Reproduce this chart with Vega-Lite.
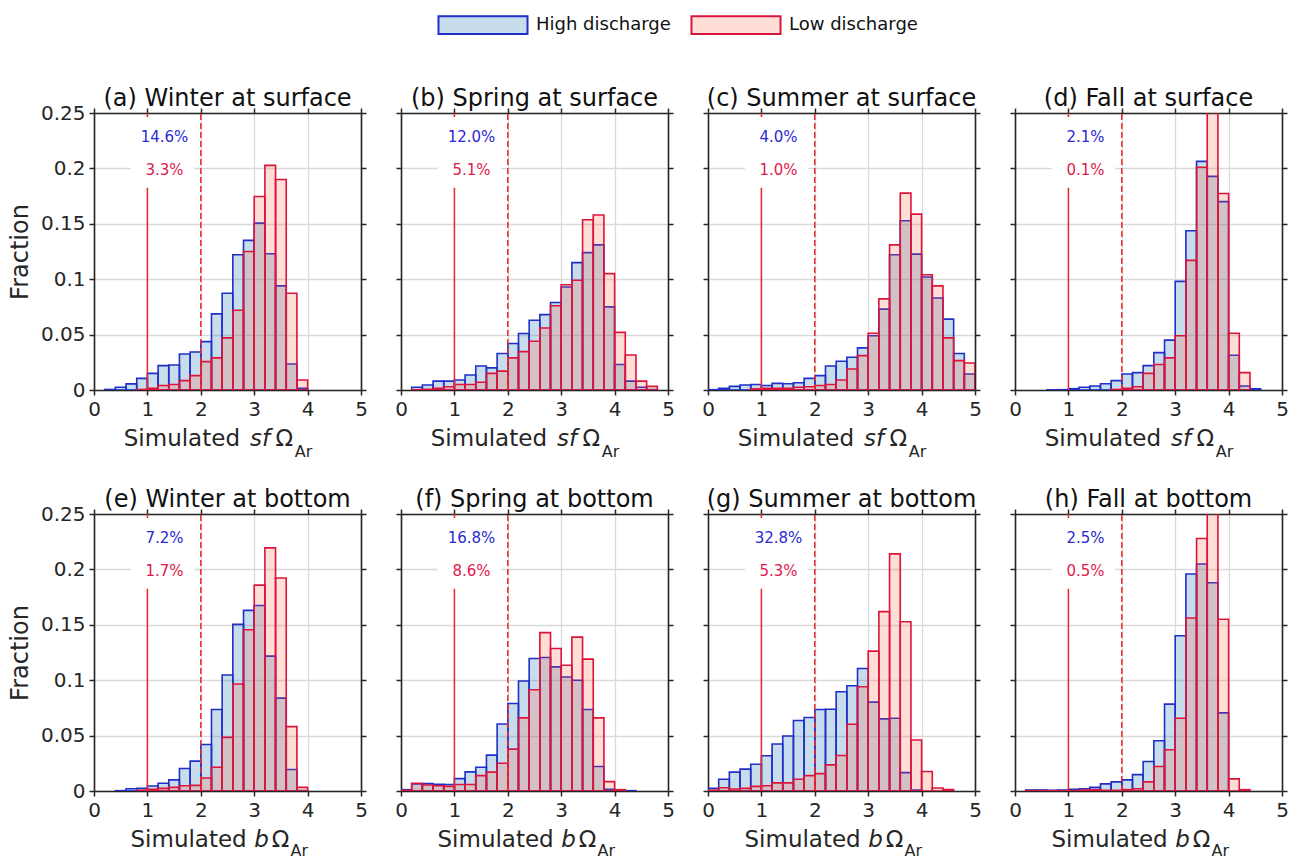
{
"$schema": "https://vega.github.io/schema/vega-lite/v6.json",
"padding": {"left": 8, "top": 15, "right": 5, "bottom": 5},
"columns": 4,
"spacing": {"row": 124, "column": 40},
"bounds": "flush",
"datasets": {
"bars": [
{"p":"a","s":"H","b0":0.2,"b1":0.4,"v":0.0005},{"p":"a","s":"H","b0":0.4,"b1":0.6,"v":0.0025},{"p":"a","s":"H","b0":0.6,"b1":0.8,"v":0.0055},{"p":"a","s":"H","b0":0.8,"b1":1,"v":0.0105},{"p":"a","s":"H","b0":1,"b1":1.2,"v":0.015},{"p":"a","s":"H","b0":1.2,"b1":1.4,"v":0.022},{"p":"a","s":"H","b0":1.4,"b1":1.6,"v":0.0226},{"p":"a","s":"H","b0":1.6,"b1":1.8,"v":0.0325},{"p":"a","s":"H","b0":1.8,"b1":2,"v":0.0343},{"p":"a","s":"H","b0":2,"b1":2.2,"v":0.0437},{"p":"a","s":"H","b0":2.2,"b1":2.4,"v":0.0687},{"p":"a","s":"H","b0":2.4,"b1":2.6,"v":0.0873},{"p":"a","s":"H","b0":2.6,"b1":2.8,"v":0.122},{"p":"a","s":"H","b0":2.8,"b1":3,"v":0.135},{"p":"a","s":"H","b0":3,"b1":3.2,"v":0.1506},{"p":"a","s":"H","b0":3.2,"b1":3.4,"v":0.123},{"p":"a","s":"H","b0":3.4,"b1":3.6,"v":0.094},{"p":"a","s":"H","b0":3.6,"b1":3.8,"v":0.0235},{"p":"a","s":"H","b0":3.8,"b1":4,"v":0.0015},
{"p":"a","s":"L","b0":0.8,"b1":1,"v":0.0005},{"p":"a","s":"L","b0":1,"b1":1.2,"v":0.0015},{"p":"a","s":"L","b0":1.2,"b1":1.4,"v":0.004},{"p":"a","s":"L","b0":1.4,"b1":1.6,"v":0.005},{"p":"a","s":"L","b0":1.6,"b1":1.8,"v":0.0085},{"p":"a","s":"L","b0":1.8,"b1":2,"v":0.013},{"p":"a","s":"L","b0":2,"b1":2.2,"v":0.0256},{"p":"a","s":"L","b0":2.2,"b1":2.4,"v":0.029},{"p":"a","s":"L","b0":2.4,"b1":2.6,"v":0.047},{"p":"a","s":"L","b0":2.6,"b1":2.8,"v":0.072},{"p":"a","s":"L","b0":2.8,"b1":3,"v":0.125},{"p":"a","s":"L","b0":3,"b1":3.2,"v":0.1747},{"p":"a","s":"L","b0":3.2,"b1":3.4,"v":0.2027},{"p":"a","s":"L","b0":3.4,"b1":3.6,"v":0.19},{"p":"a","s":"L","b0":3.6,"b1":3.8,"v":0.0873},{"p":"a","s":"L","b0":3.8,"b1":4,"v":0.009},
{"p":"b","s":"H","b0":0.2,"b1":0.4,"v":0.0025},{"p":"b","s":"H","b0":0.4,"b1":0.6,"v":0.0045},{"p":"b","s":"H","b0":0.6,"b1":0.8,"v":0.008},{"p":"b","s":"H","b0":0.8,"b1":1,"v":0.008},{"p":"b","s":"H","b0":1,"b1":1.2,"v":0.009},{"p":"b","s":"H","b0":1.2,"b1":1.4,"v":0.0135},{"p":"b","s":"H","b0":1.4,"b1":1.6,"v":0.0217},{"p":"b","s":"H","b0":1.6,"b1":1.8,"v":0.02},{"p":"b","s":"H","b0":1.8,"b1":2,"v":0.033},{"p":"b","s":"H","b0":2,"b1":2.2,"v":0.042},{"p":"b","s":"H","b0":2.2,"b1":2.4,"v":0.051},{"p":"b","s":"H","b0":2.4,"b1":2.6,"v":0.063},{"p":"b","s":"H","b0":2.6,"b1":2.8,"v":0.068},{"p":"b","s":"H","b0":2.8,"b1":3,"v":0.079},{"p":"b","s":"H","b0":3,"b1":3.2,"v":0.093},{"p":"b","s":"H","b0":3.2,"b1":3.4,"v":0.115},{"p":"b","s":"H","b0":3.4,"b1":3.6,"v":0.124},{"p":"b","s":"H","b0":3.6,"b1":3.8,"v":0.131},{"p":"b","s":"H","b0":3.8,"b1":4,"v":0.075},{"p":"b","s":"H","b0":4,"b1":4.2,"v":0.023},{"p":"b","s":"H","b0":4.2,"b1":4.4,"v":0.008},{"p":"b","s":"H","b0":4.4,"b1":4.6,"v":0.0025},{"p":"b","s":"H","b0":4.6,"b1":4.8,"v":0.0005},
{"p":"b","s":"L","b0":0.2,"b1":0.4,"v":0.0003},{"p":"b","s":"L","b0":0.4,"b1":0.6,"v":0.0006},{"p":"b","s":"L","b0":0.6,"b1":0.8,"v":0.0015},{"p":"b","s":"L","b0":0.8,"b1":1,"v":0.003},{"p":"b","s":"L","b0":1,"b1":1.2,"v":0.005},{"p":"b","s":"L","b0":1.2,"b1":1.4,"v":0.005},{"p":"b","s":"L","b0":1.4,"b1":1.6,"v":0.007},{"p":"b","s":"L","b0":1.6,"b1":1.8,"v":0.015},{"p":"b","s":"L","b0":1.8,"b1":2,"v":0.017},{"p":"b","s":"L","b0":2,"b1":2.2,"v":0.029},{"p":"b","s":"L","b0":2.2,"b1":2.4,"v":0.0346},{"p":"b","s":"L","b0":2.4,"b1":2.6,"v":0.044},{"p":"b","s":"L","b0":2.6,"b1":2.8,"v":0.056},{"p":"b","s":"L","b0":2.8,"b1":3,"v":0.076},{"p":"b","s":"L","b0":3,"b1":3.2,"v":0.095},{"p":"b","s":"L","b0":3.2,"b1":3.4,"v":0.099},{"p":"b","s":"L","b0":3.4,"b1":3.6,"v":0.1536},{"p":"b","s":"L","b0":3.6,"b1":3.8,"v":0.158},{"p":"b","s":"L","b0":3.8,"b1":4,"v":0.105},{"p":"b","s":"L","b0":4,"b1":4.2,"v":0.052},{"p":"b","s":"L","b0":4.2,"b1":4.4,"v":0.0316},{"p":"b","s":"L","b0":4.4,"b1":4.6,"v":0.008},{"p":"b","s":"L","b0":4.6,"b1":4.8,"v":0.0033},
{"p":"c","s":"H","b0":0,"b1":0.2,"v":0.0003},{"p":"c","s":"H","b0":0.2,"b1":0.4,"v":0.0015},{"p":"c","s":"H","b0":0.4,"b1":0.6,"v":0.0033},{"p":"c","s":"H","b0":0.6,"b1":0.8,"v":0.0045},{"p":"c","s":"H","b0":0.8,"b1":1,"v":0.005},{"p":"c","s":"H","b0":1,"b1":1.2,"v":0.004},{"p":"c","s":"H","b0":1.2,"b1":1.4,"v":0.006},{"p":"c","s":"H","b0":1.4,"b1":1.6,"v":0.0057},{"p":"c","s":"H","b0":1.6,"b1":1.8,"v":0.0066},{"p":"c","s":"H","b0":1.8,"b1":2,"v":0.0105},{"p":"c","s":"H","b0":2,"b1":2.2,"v":0.013},{"p":"c","s":"H","b0":2.2,"b1":2.4,"v":0.0217},{"p":"c","s":"H","b0":2.4,"b1":2.6,"v":0.026},{"p":"c","s":"H","b0":2.6,"b1":2.8,"v":0.0295},{"p":"c","s":"H","b0":2.8,"b1":3,"v":0.038},{"p":"c","s":"H","b0":3,"b1":3.2,"v":0.049},{"p":"c","s":"H","b0":3.2,"b1":3.4,"v":0.073},{"p":"c","s":"H","b0":3.4,"b1":3.6,"v":0.122},{"p":"c","s":"H","b0":3.6,"b1":3.8,"v":0.1527},{"p":"c","s":"H","b0":3.8,"b1":4,"v":0.1226},{"p":"c","s":"H","b0":4,"b1":4.2,"v":0.102},{"p":"c","s":"H","b0":4.2,"b1":4.4,"v":0.083},{"p":"c","s":"H","b0":4.4,"b1":4.6,"v":0.064},{"p":"c","s":"H","b0":4.6,"b1":4.8,"v":0.033},{"p":"c","s":"H","b0":4.8,"b1":5,"v":0.0145},
{"p":"c","s":"L","b0":0.8,"b1":1,"v":0.001},{"p":"c","s":"L","b0":1,"b1":1.2,"v":0.0015},{"p":"c","s":"L","b0":1.2,"b1":1.4,"v":0.0015},{"p":"c","s":"L","b0":1.4,"b1":1.6,"v":0.0015},{"p":"c","s":"L","b0":1.6,"b1":1.8,"v":0.0025},{"p":"c","s":"L","b0":1.8,"b1":2,"v":0.003},{"p":"c","s":"L","b0":2,"b1":2.2,"v":0.004},{"p":"c","s":"L","b0":2.2,"b1":2.4,"v":0.005},{"p":"c","s":"L","b0":2.4,"b1":2.6,"v":0.009},{"p":"c","s":"L","b0":2.6,"b1":2.8,"v":0.019},{"p":"c","s":"L","b0":2.8,"b1":3,"v":0.031},{"p":"c","s":"L","b0":3,"b1":3.2,"v":0.0512},{"p":"c","s":"L","b0":3.2,"b1":3.4,"v":0.0822},{"p":"c","s":"L","b0":3.4,"b1":3.6,"v":0.131},{"p":"c","s":"L","b0":3.6,"b1":3.8,"v":0.1777},{"p":"c","s":"L","b0":3.8,"b1":4,"v":0.1587},{"p":"c","s":"L","b0":4,"b1":4.2,"v":0.104},{"p":"c","s":"L","b0":4.2,"b1":4.4,"v":0.094},{"p":"c","s":"L","b0":4.4,"b1":4.6,"v":0.047},{"p":"c","s":"L","b0":4.6,"b1":4.8,"v":0.0265},{"p":"c","s":"L","b0":4.8,"b1":5,"v":0.0244},
{"p":"d","s":"H","b0":0.6,"b1":0.8,"v":0.0002},{"p":"d","s":"H","b0":0.8,"b1":1,"v":0.0003},{"p":"d","s":"H","b0":1,"b1":1.2,"v":0.0012},{"p":"d","s":"H","b0":1.2,"b1":1.4,"v":0.0025},{"p":"d","s":"H","b0":1.4,"b1":1.6,"v":0.0036},{"p":"d","s":"H","b0":1.6,"b1":1.8,"v":0.0057},{"p":"d","s":"H","b0":1.8,"b1":2,"v":0.0085},{"p":"d","s":"H","b0":2,"b1":2.2,"v":0.0145},{"p":"d","s":"H","b0":2.2,"b1":2.4,"v":0.0157},{"p":"d","s":"H","b0":2.4,"b1":2.6,"v":0.022},{"p":"d","s":"H","b0":2.6,"b1":2.8,"v":0.0337},{"p":"d","s":"H","b0":2.8,"b1":3,"v":0.045},{"p":"d","s":"H","b0":3,"b1":3.2,"v":0.098},{"p":"d","s":"H","b0":3.2,"b1":3.4,"v":0.1437},{"p":"d","s":"H","b0":3.4,"b1":3.6,"v":0.2063},{"p":"d","s":"H","b0":3.6,"b1":3.8,"v":0.1928},{"p":"d","s":"H","b0":3.8,"b1":4,"v":0.17},{"p":"d","s":"H","b0":4,"b1":4.2,"v":0.0313},{"p":"d","s":"H","b0":4.2,"b1":4.4,"v":0.0036},{"p":"d","s":"H","b0":4.4,"b1":4.6,"v":0.001},
{"p":"d","s":"L","b0":1.8,"b1":2,"v":0.0005},{"p":"d","s":"L","b0":2,"b1":2.2,"v":0.0015},{"p":"d","s":"L","b0":2.2,"b1":2.4,"v":0.003},{"p":"d","s":"L","b0":2.4,"b1":2.6,"v":0.015},{"p":"d","s":"L","b0":2.6,"b1":2.8,"v":0.023},{"p":"d","s":"L","b0":2.8,"b1":3,"v":0.029},{"p":"d","s":"L","b0":3,"b1":3.2,"v":0.049},{"p":"d","s":"L","b0":3.2,"b1":3.4,"v":0.117},{"p":"d","s":"L","b0":3.4,"b1":3.6,"v":0.201},{"p":"d","s":"L","b0":3.6,"b1":3.8,"v":0.31},{"p":"d","s":"L","b0":3.8,"b1":4,"v":0.1774},{"p":"d","s":"L","b0":4,"b1":4.2,"v":0.0512},{"p":"d","s":"L","b0":4.2,"b1":4.4,"v":0.0157},
{"p":"e","s":"H","b0":0.4,"b1":0.6,"v":0.0003},{"p":"e","s":"H","b0":0.6,"b1":0.8,"v":0.002},{"p":"e","s":"H","b0":0.8,"b1":1,"v":0.0024},{"p":"e","s":"H","b0":1,"b1":1.2,"v":0.0045},{"p":"e","s":"H","b0":1.2,"b1":1.4,"v":0.007},{"p":"e","s":"H","b0":1.4,"b1":1.6,"v":0.01},{"p":"e","s":"H","b0":1.6,"b1":1.8,"v":0.0203},{"p":"e","s":"H","b0":1.8,"b1":2,"v":0.027},{"p":"e","s":"H","b0":2,"b1":2.2,"v":0.042},{"p":"e","s":"H","b0":2.2,"b1":2.4,"v":0.0735},{"p":"e","s":"H","b0":2.4,"b1":2.6,"v":0.1047},{"p":"e","s":"H","b0":2.6,"b1":2.8,"v":0.1504},{"p":"e","s":"H","b0":2.8,"b1":3,"v":0.163},{"p":"e","s":"H","b0":3,"b1":3.2,"v":0.1674},{"p":"e","s":"H","b0":3.2,"b1":3.4,"v":0.1217},{"p":"e","s":"H","b0":3.4,"b1":3.6,"v":0.0838},{"p":"e","s":"H","b0":3.6,"b1":3.8,"v":0.0194},{"p":"e","s":"H","b0":3.8,"b1":4,"v":0.0003},
{"p":"e","s":"L","b0":0.8,"b1":1,"v":0.0006},{"p":"e","s":"L","b0":1,"b1":1.2,"v":0.0015},{"p":"e","s":"L","b0":1.2,"b1":1.4,"v":0.0024},{"p":"e","s":"L","b0":1.4,"b1":1.6,"v":0.0033},{"p":"e","s":"L","b0":1.6,"b1":1.8,"v":0.0048},{"p":"e","s":"L","b0":1.8,"b1":2,"v":0.0051},{"p":"e","s":"L","b0":2,"b1":2.2,"v":0.0118},{"p":"e","s":"L","b0":2.2,"b1":2.4,"v":0.0215},{"p":"e","s":"L","b0":2.4,"b1":2.6,"v":0.0484},{"p":"e","s":"L","b0":2.6,"b1":2.8,"v":0.0966},{"p":"e","s":"L","b0":2.8,"b1":3,"v":0.1456},{"p":"e","s":"L","b0":3,"b1":3.2,"v":0.1858},{"p":"e","s":"L","b0":3.2,"b1":3.4,"v":0.2194},{"p":"e","s":"L","b0":3.4,"b1":3.6,"v":0.1922},{"p":"e","s":"L","b0":3.6,"b1":3.8,"v":0.0581},{"p":"e","s":"L","b0":3.8,"b1":4,"v":0.0033},
{"p":"f","s":"H","b0":0,"b1":0.2,"v":0.0012},{"p":"f","s":"H","b0":0.2,"b1":0.4,"v":0.0064},{"p":"f","s":"H","b0":0.4,"b1":0.6,"v":0.0067},{"p":"f","s":"H","b0":0.6,"b1":0.8,"v":0.006},{"p":"f","s":"H","b0":0.8,"b1":1,"v":0.0058},{"p":"f","s":"H","b0":1,"b1":1.2,"v":0.0112},{"p":"f","s":"H","b0":1.2,"b1":1.4,"v":0.0173},{"p":"f","s":"H","b0":1.4,"b1":1.6,"v":0.0215},{"p":"f","s":"H","b0":1.6,"b1":1.8,"v":0.0324},{"p":"f","s":"H","b0":1.8,"b1":2,"v":0.0605},{"p":"f","s":"H","b0":2,"b1":2.2,"v":0.079},{"p":"f","s":"H","b0":2.2,"b1":2.4,"v":0.0993},{"p":"f","s":"H","b0":2.4,"b1":2.6,"v":0.1196},{"p":"f","s":"H","b0":2.6,"b1":2.8,"v":0.1205},{"p":"f","s":"H","b0":2.8,"b1":3,"v":0.112},{"p":"f","s":"H","b0":3,"b1":3.2,"v":0.1029},{"p":"f","s":"H","b0":3.2,"b1":3.4,"v":0.0999},{"p":"f","s":"H","b0":3.4,"b1":3.6,"v":0.0735},{"p":"f","s":"H","b0":3.6,"b1":3.8,"v":0.0221},{"p":"f","s":"H","b0":3.8,"b1":4,"v":0.0015},{"p":"f","s":"H","b0":4,"b1":4.2,"v":0.0006},{"p":"f","s":"H","b0":4.2,"b1":4.4,"v":0.0003},
{"p":"f","s":"L","b0":0,"b1":0.2,"v":0.0006},{"p":"f","s":"L","b0":0.2,"b1":0.4,"v":0.007},{"p":"f","s":"L","b0":0.4,"b1":0.6,"v":0.0054},{"p":"f","s":"L","b0":0.6,"b1":0.8,"v":0.0048},{"p":"f","s":"L","b0":0.8,"b1":1,"v":0.0042},{"p":"f","s":"L","b0":1,"b1":1.2,"v":0.0058},{"p":"f","s":"L","b0":1.2,"b1":1.4,"v":0.0058},{"p":"f","s":"L","b0":1.4,"b1":1.6,"v":0.0139},{"p":"f","s":"L","b0":1.6,"b1":1.8,"v":0.017},{"p":"f","s":"L","b0":1.8,"b1":2,"v":0.0251},{"p":"f","s":"L","b0":2,"b1":2.2,"v":0.0378},{"p":"f","s":"L","b0":2.2,"b1":2.4,"v":0.066},{"p":"f","s":"L","b0":2.4,"b1":2.6,"v":0.0914},{"p":"f","s":"L","b0":2.6,"b1":2.8,"v":0.1429},{"p":"f","s":"L","b0":2.8,"b1":3,"v":0.1286},{"p":"f","s":"L","b0":3,"b1":3.2,"v":0.1135},{"p":"f","s":"L","b0":3.2,"b1":3.4,"v":0.1389},{"p":"f","s":"L","b0":3.4,"b1":3.6,"v":0.119},{"p":"f","s":"L","b0":3.6,"b1":3.8,"v":0.066},{"p":"f","s":"L","b0":3.8,"b1":4,"v":0.0085},{"p":"f","s":"L","b0":4,"b1":4.2,"v":0.0012},
{"p":"g","s":"H","b0":0,"b1":0.2,"v":0.0024},{"p":"g","s":"H","b0":0.2,"b1":0.4,"v":0.0106},{"p":"g","s":"H","b0":0.4,"b1":0.6,"v":0.017},{"p":"g","s":"H","b0":0.6,"b1":0.8,"v":0.0197},{"p":"g","s":"H","b0":0.8,"b1":1,"v":0.0242},{"p":"g","s":"H","b0":1,"b1":1.2,"v":0.0318},{"p":"g","s":"H","b0":1.2,"b1":1.4,"v":0.0424},{"p":"g","s":"H","b0":1.4,"b1":1.6,"v":0.0496},{"p":"g","s":"H","b0":1.6,"b1":1.8,"v":0.0636},{"p":"g","s":"H","b0":1.8,"b1":2,"v":0.0663},{"p":"g","s":"H","b0":2,"b1":2.2,"v":0.0735},{"p":"g","s":"H","b0":2.2,"b1":2.4,"v":0.0738},{"p":"g","s":"H","b0":2.4,"b1":2.6,"v":0.0896},{"p":"g","s":"H","b0":2.6,"b1":2.8,"v":0.095},{"p":"g","s":"H","b0":2.8,"b1":3,"v":0.1105},{"p":"g","s":"H","b0":3,"b1":3.2,"v":0.0802},{"p":"g","s":"H","b0":3.2,"b1":3.4,"v":0.0651},{"p":"g","s":"H","b0":3.4,"b1":3.6,"v":0.0657},{"p":"g","s":"H","b0":3.6,"b1":3.8,"v":0.0166},{"p":"g","s":"H","b0":3.8,"b1":4,"v":0.0009},
{"p":"g","s":"L","b0":0,"b1":0.2,"v":0.0006},{"p":"g","s":"L","b0":0.2,"b1":0.4,"v":0.003},{"p":"g","s":"L","b0":0.4,"b1":0.6,"v":0.0018},{"p":"g","s":"L","b0":0.6,"b1":0.8,"v":0.0024},{"p":"g","s":"L","b0":0.8,"b1":1,"v":0.0042},{"p":"g","s":"L","b0":1,"b1":1.2,"v":0.0048},{"p":"g","s":"L","b0":1.2,"b1":1.4,"v":0.0073},{"p":"g","s":"L","b0":1.4,"b1":1.6,"v":0.0073},{"p":"g","s":"L","b0":1.6,"b1":1.8,"v":0.0106},{"p":"g","s":"L","b0":1.8,"b1":2,"v":0.0139},{"p":"g","s":"L","b0":2,"b1":2.2,"v":0.0157},{"p":"g","s":"L","b0":2.2,"b1":2.4,"v":0.0236},{"p":"g","s":"L","b0":2.4,"b1":2.6,"v":0.0321},{"p":"g","s":"L","b0":2.6,"b1":2.8,"v":0.0602},{"p":"g","s":"L","b0":2.8,"b1":3,"v":0.0941},{"p":"g","s":"L","b0":3,"b1":3.2,"v":0.1262},{"p":"g","s":"L","b0":3.2,"b1":3.4,"v":0.1619},{"p":"g","s":"L","b0":3.4,"b1":3.6,"v":0.214},{"p":"g","s":"L","b0":3.6,"b1":3.8,"v":0.1528},{"p":"g","s":"L","b0":3.8,"b1":4,"v":0.046},{"p":"g","s":"L","b0":4,"b1":4.2,"v":0.0176},{"p":"g","s":"L","b0":4.2,"b1":4.4,"v":0.0027},{"p":"g","s":"L","b0":4.4,"b1":4.6,"v":0.0012},
{"p":"h","s":"H","b0":0.2,"b1":0.4,"v":0.0009},{"p":"h","s":"H","b0":0.4,"b1":0.6,"v":0.0009},{"p":"h","s":"H","b0":0.6,"b1":0.8,"v":0.0006},{"p":"h","s":"H","b0":0.8,"b1":1,"v":0.0009},{"p":"h","s":"H","b0":1,"b1":1.2,"v":0.0015},{"p":"h","s":"H","b0":1.2,"b1":1.4,"v":0.002},{"p":"h","s":"H","b0":1.4,"b1":1.6,"v":0.0033},{"p":"h","s":"H","b0":1.6,"b1":1.8,"v":0.0064},{"p":"h","s":"H","b0":1.8,"b1":2,"v":0.0082},{"p":"h","s":"H","b0":2,"b1":2.2,"v":0.01},{"p":"h","s":"H","b0":2.2,"b1":2.4,"v":0.0148},{"p":"h","s":"H","b0":2.4,"b1":2.6,"v":0.0266},{"p":"h","s":"H","b0":2.6,"b1":2.8,"v":0.0454},{"p":"h","s":"H","b0":2.8,"b1":3,"v":0.0784},{"p":"h","s":"H","b0":3,"b1":3.2,"v":0.1401},{"p":"h","s":"H","b0":3.2,"b1":3.4,"v":0.1958},{"p":"h","s":"H","b0":3.4,"b1":3.6,"v":0.2049},{"p":"h","s":"H","b0":3.6,"b1":3.8,"v":0.188},{"p":"h","s":"H","b0":3.8,"b1":4,"v":0.0705},
{"p":"h","s":"L","b0":0.2,"b1":0.4,"v":0.0003},{"p":"h","s":"L","b0":0.4,"b1":0.6,"v":0.0003},{"p":"h","s":"L","b0":0.6,"b1":0.8,"v":0.0003},{"p":"h","s":"L","b0":0.8,"b1":1,"v":0.0003},{"p":"h","s":"L","b0":1,"b1":1.2,"v":0.0003},{"p":"h","s":"L","b0":1.2,"b1":1.4,"v":0.0009},{"p":"h","s":"L","b0":1.4,"b1":1.6,"v":0.0012},{"p":"h","s":"L","b0":1.6,"b1":1.8,"v":0.0006},{"p":"h","s":"L","b0":1.8,"b1":2,"v":0.0006},{"p":"h","s":"L","b0":2,"b1":2.2,"v":0.0012},{"p":"h","s":"L","b0":2.2,"b1":2.4,"v":0.002},{"p":"h","s":"L","b0":2.4,"b1":2.6,"v":0.0082},{"p":"h","s":"L","b0":2.6,"b1":2.8,"v":0.0221},{"p":"h","s":"L","b0":2.8,"b1":3,"v":0.0372},{"p":"h","s":"L","b0":3,"b1":3.2,"v":0.0657},{"p":"h","s":"L","b0":3.2,"b1":3.4,"v":0.1562},{"p":"h","s":"L","b0":3.4,"b1":3.6,"v":0.2279},{"p":"h","s":"L","b0":3.6,"b1":3.8,"v":0.3},{"p":"h","s":"L","b0":3.8,"b1":4,"v":0.155},{"p":"h","s":"L","b0":4,"b1":4.2,"v":0.0109},{"p":"h","s":"L","b0":4.2,"b1":4.4,"v":0.0012}
],
"one": [{}]
},
"concat": [
{"width":267,"height":277,"title":{"text":"(a) Winter at surface","offset":-8},"resolve":{"axis":{"x":"independent","y":"independent"}},"layer":[
{"data":{"name":"bars"},"transform":[{"filter":"datum.p=='a'&&datum.s=='H'"}],"mark":{"type":"rect","strokeWidth":1.6,"clip":true,"fillOpacity":0.25},"encoding":{"x":{"field":"b0","type":"quantitative","scale":{"domain":[0,5],"nice":false},"axis":{"orient":"bottom","title":null}},"x2":{"field":"b1"},"y":{"field":"v","type":"quantitative","scale":{"domain":[0,0.25],"nice":false},"axis":{"orient":"left","title":"Fraction","format":"~g"}},"y2":{"datum":0},
"fill":{"field":"s","type":"nominal","scale":{"domain":["H","L"],"range":["#1f77b4","#ff5a36"]},"legend":{"title":null,"labelExpr":"datum.label=='H'?'High discharge':'Low discharge'","encode":{"symbols":{"update":{"fillOpacity":{"signal":"datum.value=='H'?0.25:0.2"}}}}}},
"stroke":{"field":"s","type":"nominal","scale":{"domain":["H","L"],"range":["#1f2fc8","#dc143c"]},"legend":{"title":null,"labelExpr":"datum.label=='H'?'High discharge':'Low discharge'","encode":{"symbols":{"update":{"fillOpacity":{"signal":"datum.value=='H'?0.25:0.2"}}}}}}}},
{"data":{"name":"bars"},"transform":[{"filter":"datum.p=='a'&&datum.s=='L'"}],"mark":{"type":"rect","strokeWidth":1.6,"clip":true,"fillOpacity":0.2},"encoding":{"x":{"field":"b0","type":"quantitative","scale":{"domain":[0,5],"nice":false},"axis":null},"x2":{"field":"b1"},"y":{"field":"v","type":"quantitative","scale":{"domain":[0,0.25],"nice":false},"axis":null},"y2":{"datum":0},
"fill":{"field":"s","type":"nominal","scale":{"domain":["H","L"],"range":["#1f77b4","#ff5a36"]},"legend":{"title":null,"labelExpr":"datum.label=='H'?'High discharge':'Low discharge'","encode":{"symbols":{"update":{"fillOpacity":{"signal":"datum.value=='H'?0.25:0.2"}}}}}},
"stroke":{"field":"s","type":"nominal","scale":{"domain":["H","L"],"range":["#1f2fc8","#dc143c"]},"legend":{"title":null,"labelExpr":"datum.label=='H'?'High discharge':'Low discharge'","encode":{"symbols":{"update":{"fillOpacity":{"signal":"datum.value=='H'?0.25:0.2"}}}}}}}},
{"data":{"name":"one"},"mark":{"type":"rule","color":"#f0282d","strokeWidth":1.5},"encoding":{"x":{"datum":1,"type":"quantitative","scale":{"domain":[0,5],"nice":false},"axis":null},"y":{"datum":0,"type":"quantitative","scale":{"domain":[0,0.25],"nice":false},"axis":null},"y2":{"datum":0.25}}},
{"data":{"name":"one"},"mark":{"type":"rect","fill":"white"},"encoding":{"x":{"datum":0.69,"type":"quantitative","scale":{"domain":[0,5],"nice":false},"axis":null},"x2":{"datum":1.875},"y":{"datum":0.1825,"type":"quantitative","scale":{"domain":[0,0.25],"nice":false},"axis":null},"y2":{"datum":0.2465}}},
{"data":{"name":"one"},"mark":{"type":"rule","color":"#f0282d","strokeWidth":1.5,"strokeDash":[6,3]},"encoding":{"x":{"datum":2,"type":"quantitative","scale":{"domain":[0,5],"nice":false},"axis":{"orient":"top","labels":false,"grid":false,"title":null}},"y":{"datum":0,"type":"quantitative","scale":{"domain":[0,0.25],"nice":false},"axis":{"orient":"right","labels":false,"grid":false,"title":null}},"y2":{"datum":0.25}}},
{"data":{"name":"one"},"mark":{"type":"text","text":"14.6%","color":"#2a2ad0","fontSize":15,"baseline":"middle"},"encoding":{"x":{"datum":1.32,"type":"quantitative","scale":{"domain":[0,5],"nice":false},"axis":null},"y":{"datum":0.228,"type":"quantitative","scale":{"domain":[0,0.25],"nice":false},"axis":null}}},
{"data":{"name":"one"},"mark":{"type":"text","text":"3.3%","color":"#e0194b","fontSize":15,"baseline":"middle"},"encoding":{"x":{"datum":1.32,"type":"quantitative","scale":{"domain":[0,5],"nice":false},"axis":null},"y":{"datum":0.199,"type":"quantitative","scale":{"domain":[0,0.25],"nice":false},"axis":null}}},
{"data":{"name":"one"},"mark":{"type":"text","text":"Simulated","align":"right"},"encoding":{"x":{"datum":2.734,"type":"quantitative","scale":{"domain":[0,5],"nice":false},"axis":null},"y":{"datum":-0.0505,"type":"quantitative","scale":{"domain":[0,0.25],"nice":false},"axis":null}}},
{"data":{"name":"one"},"mark":{"type":"text","text":"sf","align":"left","fontStyle":"italic"},"encoding":{"x":{"datum":2.92,"type":"quantitative","scale":{"domain":[0,5],"nice":false},"axis":null},"y":{"datum":-0.0505,"type":"quantitative","scale":{"domain":[0,0.25],"nice":false},"axis":null}}},
{"data":{"name":"one"},"mark":{"type":"text","text":"Ω","align":"left"},"encoding":{"x":{"datum":3.4,"type":"quantitative","scale":{"domain":[0,5],"nice":false},"axis":null},"y":{"datum":-0.0505,"type":"quantitative","scale":{"domain":[0,0.25],"nice":false},"axis":null}}},
{"data":{"name":"one"},"mark":{"type":"text","text":"Ar","align":"left","fontSize":16},"encoding":{"x":{"datum":3.76,"type":"quantitative","scale":{"domain":[0,5],"nice":false},"axis":null},"y":{"datum":-0.0605,"type":"quantitative","scale":{"domain":[0,0.25],"nice":false},"axis":null}}}
]},
{"width":267,"height":277,"title":{"text":"(b) Spring at surface","offset":-4},"resolve":{"axis":{"x":"independent","y":"independent"}},"layer":[
{"data":{"name":"bars"},"transform":[{"filter":"datum.p=='b'&&datum.s=='H'"}],"mark":{"type":"rect","fill":"#1f77b4","fillOpacity":0.25,"stroke":"#1f2fc8","strokeWidth":1.6,"clip":true},"encoding":{"x":{"field":"b0","type":"quantitative","scale":{"domain":[0,5],"nice":false},"axis":{"orient":"bottom","title":null}},"x2":{"field":"b1"},"y":{"field":"v","type":"quantitative","scale":{"domain":[0,0.25],"nice":false},"axis":{"orient":"left","title":null,"labels":false}},"y2":{"datum":0}}},
{"data":{"name":"bars"},"transform":[{"filter":"datum.p=='b'&&datum.s=='L'"}],"mark":{"type":"rect","fill":"#ff5a36","fillOpacity":0.2,"stroke":"#dc143c","strokeWidth":1.6,"clip":true},"encoding":{"x":{"field":"b0","type":"quantitative","scale":{"domain":[0,5],"nice":false},"axis":null},"x2":{"field":"b1"},"y":{"field":"v","type":"quantitative","scale":{"domain":[0,0.25],"nice":false},"axis":null},"y2":{"datum":0}}},
{"data":{"name":"one"},"mark":{"type":"rule","color":"#f0282d","strokeWidth":1.5},"encoding":{"x":{"datum":1,"type":"quantitative","scale":{"domain":[0,5],"nice":false},"axis":null},"y":{"datum":0,"type":"quantitative","scale":{"domain":[0,0.25],"nice":false},"axis":null},"y2":{"datum":0.25}}},
{"data":{"name":"one"},"mark":{"type":"rect","fill":"white"},"encoding":{"x":{"datum":0.69,"type":"quantitative","scale":{"domain":[0,5],"nice":false},"axis":null},"x2":{"datum":1.875},"y":{"datum":0.1825,"type":"quantitative","scale":{"domain":[0,0.25],"nice":false},"axis":null},"y2":{"datum":0.2465}}},
{"data":{"name":"one"},"mark":{"type":"rule","color":"#f0282d","strokeWidth":1.5,"strokeDash":[6,3]},"encoding":{"x":{"datum":2,"type":"quantitative","scale":{"domain":[0,5],"nice":false},"axis":{"orient":"top","labels":false,"grid":false,"title":null}},"y":{"datum":0,"type":"quantitative","scale":{"domain":[0,0.25],"nice":false},"axis":{"orient":"right","labels":false,"grid":false,"title":null}},"y2":{"datum":0.25}}},
{"data":{"name":"one"},"mark":{"type":"text","text":"12.0%","color":"#2a2ad0","fontSize":15,"baseline":"middle"},"encoding":{"x":{"datum":1.32,"type":"quantitative","scale":{"domain":[0,5],"nice":false},"axis":null},"y":{"datum":0.228,"type":"quantitative","scale":{"domain":[0,0.25],"nice":false},"axis":null}}},
{"data":{"name":"one"},"mark":{"type":"text","text":"5.1%","color":"#e0194b","fontSize":15,"baseline":"middle"},"encoding":{"x":{"datum":1.32,"type":"quantitative","scale":{"domain":[0,5],"nice":false},"axis":null},"y":{"datum":0.199,"type":"quantitative","scale":{"domain":[0,0.25],"nice":false},"axis":null}}},
{"data":{"name":"one"},"mark":{"type":"text","text":"Simulated","align":"right"},"encoding":{"x":{"datum":2.734,"type":"quantitative","scale":{"domain":[0,5],"nice":false},"axis":null},"y":{"datum":-0.0505,"type":"quantitative","scale":{"domain":[0,0.25],"nice":false},"axis":null}}},
{"data":{"name":"one"},"mark":{"type":"text","text":"sf","align":"left","fontStyle":"italic"},"encoding":{"x":{"datum":2.92,"type":"quantitative","scale":{"domain":[0,5],"nice":false},"axis":null},"y":{"datum":-0.0505,"type":"quantitative","scale":{"domain":[0,0.25],"nice":false},"axis":null}}},
{"data":{"name":"one"},"mark":{"type":"text","text":"Ω","align":"left"},"encoding":{"x":{"datum":3.4,"type":"quantitative","scale":{"domain":[0,5],"nice":false},"axis":null},"y":{"datum":-0.0505,"type":"quantitative","scale":{"domain":[0,0.25],"nice":false},"axis":null}}},
{"data":{"name":"one"},"mark":{"type":"text","text":"Ar","align":"left","fontSize":16},"encoding":{"x":{"datum":3.76,"type":"quantitative","scale":{"domain":[0,5],"nice":false},"axis":null},"y":{"datum":-0.0605,"type":"quantitative","scale":{"domain":[0,0.25],"nice":false},"axis":null}}}
]},
{"width":267,"height":277,"title":{"text":"(c) Summer at surface","offset":-4},"resolve":{"axis":{"x":"independent","y":"independent"}},"layer":[
{"data":{"name":"bars"},"transform":[{"filter":"datum.p=='c'&&datum.s=='H'"}],"mark":{"type":"rect","fill":"#1f77b4","fillOpacity":0.25,"stroke":"#1f2fc8","strokeWidth":1.6,"clip":true},"encoding":{"x":{"field":"b0","type":"quantitative","scale":{"domain":[0,5],"nice":false},"axis":{"orient":"bottom","title":null}},"x2":{"field":"b1"},"y":{"field":"v","type":"quantitative","scale":{"domain":[0,0.25],"nice":false},"axis":{"orient":"left","title":null,"labels":false}},"y2":{"datum":0}}},
{"data":{"name":"bars"},"transform":[{"filter":"datum.p=='c'&&datum.s=='L'"}],"mark":{"type":"rect","fill":"#ff5a36","fillOpacity":0.2,"stroke":"#dc143c","strokeWidth":1.6,"clip":true},"encoding":{"x":{"field":"b0","type":"quantitative","scale":{"domain":[0,5],"nice":false},"axis":null},"x2":{"field":"b1"},"y":{"field":"v","type":"quantitative","scale":{"domain":[0,0.25],"nice":false},"axis":null},"y2":{"datum":0}}},
{"data":{"name":"one"},"mark":{"type":"rule","color":"#f0282d","strokeWidth":1.5},"encoding":{"x":{"datum":1,"type":"quantitative","scale":{"domain":[0,5],"nice":false},"axis":null},"y":{"datum":0,"type":"quantitative","scale":{"domain":[0,0.25],"nice":false},"axis":null},"y2":{"datum":0.25}}},
{"data":{"name":"one"},"mark":{"type":"rect","fill":"white"},"encoding":{"x":{"datum":0.69,"type":"quantitative","scale":{"domain":[0,5],"nice":false},"axis":null},"x2":{"datum":1.875},"y":{"datum":0.1825,"type":"quantitative","scale":{"domain":[0,0.25],"nice":false},"axis":null},"y2":{"datum":0.2465}}},
{"data":{"name":"one"},"mark":{"type":"rule","color":"#f0282d","strokeWidth":1.5,"strokeDash":[6,3]},"encoding":{"x":{"datum":2,"type":"quantitative","scale":{"domain":[0,5],"nice":false},"axis":{"orient":"top","labels":false,"grid":false,"title":null}},"y":{"datum":0,"type":"quantitative","scale":{"domain":[0,0.25],"nice":false},"axis":{"orient":"right","labels":false,"grid":false,"title":null}},"y2":{"datum":0.25}}},
{"data":{"name":"one"},"mark":{"type":"text","text":"4.0%","color":"#2a2ad0","fontSize":15,"baseline":"middle"},"encoding":{"x":{"datum":1.32,"type":"quantitative","scale":{"domain":[0,5],"nice":false},"axis":null},"y":{"datum":0.228,"type":"quantitative","scale":{"domain":[0,0.25],"nice":false},"axis":null}}},
{"data":{"name":"one"},"mark":{"type":"text","text":"1.0%","color":"#e0194b","fontSize":15,"baseline":"middle"},"encoding":{"x":{"datum":1.32,"type":"quantitative","scale":{"domain":[0,5],"nice":false},"axis":null},"y":{"datum":0.199,"type":"quantitative","scale":{"domain":[0,0.25],"nice":false},"axis":null}}},
{"data":{"name":"one"},"mark":{"type":"text","text":"Simulated","align":"right"},"encoding":{"x":{"datum":2.734,"type":"quantitative","scale":{"domain":[0,5],"nice":false},"axis":null},"y":{"datum":-0.0505,"type":"quantitative","scale":{"domain":[0,0.25],"nice":false},"axis":null}}},
{"data":{"name":"one"},"mark":{"type":"text","text":"sf","align":"left","fontStyle":"italic"},"encoding":{"x":{"datum":2.92,"type":"quantitative","scale":{"domain":[0,5],"nice":false},"axis":null},"y":{"datum":-0.0505,"type":"quantitative","scale":{"domain":[0,0.25],"nice":false},"axis":null}}},
{"data":{"name":"one"},"mark":{"type":"text","text":"Ω","align":"left"},"encoding":{"x":{"datum":3.4,"type":"quantitative","scale":{"domain":[0,5],"nice":false},"axis":null},"y":{"datum":-0.0505,"type":"quantitative","scale":{"domain":[0,0.25],"nice":false},"axis":null}}},
{"data":{"name":"one"},"mark":{"type":"text","text":"Ar","align":"left","fontSize":16},"encoding":{"x":{"datum":3.76,"type":"quantitative","scale":{"domain":[0,5],"nice":false},"axis":null},"y":{"datum":-0.0605,"type":"quantitative","scale":{"domain":[0,0.25],"nice":false},"axis":null}}}
]},
{"width":267,"height":277,"title":{"text":"(d) Fall at surface","offset":-4},"resolve":{"axis":{"x":"independent","y":"independent"}},"layer":[
{"data":{"name":"bars"},"transform":[{"filter":"datum.p=='d'&&datum.s=='H'"}],"mark":{"type":"rect","fill":"#1f77b4","fillOpacity":0.25,"stroke":"#1f2fc8","strokeWidth":1.6,"clip":true},"encoding":{"x":{"field":"b0","type":"quantitative","scale":{"domain":[0,5],"nice":false},"axis":{"orient":"bottom","title":null}},"x2":{"field":"b1"},"y":{"field":"v","type":"quantitative","scale":{"domain":[0,0.25],"nice":false},"axis":{"orient":"left","title":null,"labels":false}},"y2":{"datum":0}}},
{"data":{"name":"bars"},"transform":[{"filter":"datum.p=='d'&&datum.s=='L'"}],"mark":{"type":"rect","fill":"#ff5a36","fillOpacity":0.2,"stroke":"#dc143c","strokeWidth":1.6,"clip":true},"encoding":{"x":{"field":"b0","type":"quantitative","scale":{"domain":[0,5],"nice":false},"axis":null},"x2":{"field":"b1"},"y":{"field":"v","type":"quantitative","scale":{"domain":[0,0.25],"nice":false},"axis":null},"y2":{"datum":0}}},
{"data":{"name":"one"},"mark":{"type":"rule","color":"#f0282d","strokeWidth":1.5},"encoding":{"x":{"datum":1,"type":"quantitative","scale":{"domain":[0,5],"nice":false},"axis":null},"y":{"datum":0,"type":"quantitative","scale":{"domain":[0,0.25],"nice":false},"axis":null},"y2":{"datum":0.25}}},
{"data":{"name":"one"},"mark":{"type":"rect","fill":"white"},"encoding":{"x":{"datum":0.69,"type":"quantitative","scale":{"domain":[0,5],"nice":false},"axis":null},"x2":{"datum":1.875},"y":{"datum":0.1825,"type":"quantitative","scale":{"domain":[0,0.25],"nice":false},"axis":null},"y2":{"datum":0.2465}}},
{"data":{"name":"one"},"mark":{"type":"rule","color":"#f0282d","strokeWidth":1.5,"strokeDash":[6,3]},"encoding":{"x":{"datum":2,"type":"quantitative","scale":{"domain":[0,5],"nice":false},"axis":{"orient":"top","labels":false,"grid":false,"title":null}},"y":{"datum":0,"type":"quantitative","scale":{"domain":[0,0.25],"nice":false},"axis":{"orient":"right","labels":false,"grid":false,"title":null}},"y2":{"datum":0.25}}},
{"data":{"name":"one"},"mark":{"type":"text","text":"2.1%","color":"#2a2ad0","fontSize":15,"baseline":"middle"},"encoding":{"x":{"datum":1.32,"type":"quantitative","scale":{"domain":[0,5],"nice":false},"axis":null},"y":{"datum":0.228,"type":"quantitative","scale":{"domain":[0,0.25],"nice":false},"axis":null}}},
{"data":{"name":"one"},"mark":{"type":"text","text":"0.1%","color":"#e0194b","fontSize":15,"baseline":"middle"},"encoding":{"x":{"datum":1.32,"type":"quantitative","scale":{"domain":[0,5],"nice":false},"axis":null},"y":{"datum":0.199,"type":"quantitative","scale":{"domain":[0,0.25],"nice":false},"axis":null}}},
{"data":{"name":"one"},"mark":{"type":"text","text":"Simulated","align":"right"},"encoding":{"x":{"datum":2.734,"type":"quantitative","scale":{"domain":[0,5],"nice":false},"axis":null},"y":{"datum":-0.0505,"type":"quantitative","scale":{"domain":[0,0.25],"nice":false},"axis":null}}},
{"data":{"name":"one"},"mark":{"type":"text","text":"sf","align":"left","fontStyle":"italic"},"encoding":{"x":{"datum":2.92,"type":"quantitative","scale":{"domain":[0,5],"nice":false},"axis":null},"y":{"datum":-0.0505,"type":"quantitative","scale":{"domain":[0,0.25],"nice":false},"axis":null}}},
{"data":{"name":"one"},"mark":{"type":"text","text":"Ω","align":"left"},"encoding":{"x":{"datum":3.4,"type":"quantitative","scale":{"domain":[0,5],"nice":false},"axis":null},"y":{"datum":-0.0505,"type":"quantitative","scale":{"domain":[0,0.25],"nice":false},"axis":null}}},
{"data":{"name":"one"},"mark":{"type":"text","text":"Ar","align":"left","fontSize":16},"encoding":{"x":{"datum":3.76,"type":"quantitative","scale":{"domain":[0,5],"nice":false},"axis":null},"y":{"datum":-0.0605,"type":"quantitative","scale":{"domain":[0,0.25],"nice":false},"axis":null}}}
]},
{"width":267,"height":277,"title":{"text":"(e) Winter at bottom","offset":-8},"resolve":{"axis":{"x":"independent","y":"independent"}},"layer":[
{"data":{"name":"bars"},"transform":[{"filter":"datum.p=='e'&&datum.s=='H'"}],"mark":{"type":"rect","fill":"#1f77b4","fillOpacity":0.25,"stroke":"#1f2fc8","strokeWidth":1.6,"clip":true},"encoding":{"x":{"field":"b0","type":"quantitative","scale":{"domain":[0,5],"nice":false},"axis":{"orient":"bottom","title":null}},"x2":{"field":"b1"},"y":{"field":"v","type":"quantitative","scale":{"domain":[0,0.25],"nice":false},"axis":{"orient":"left","title":"Fraction","format":"~g"}},"y2":{"datum":0}}},
{"data":{"name":"bars"},"transform":[{"filter":"datum.p=='e'&&datum.s=='L'"}],"mark":{"type":"rect","fill":"#ff5a36","fillOpacity":0.2,"stroke":"#dc143c","strokeWidth":1.6,"clip":true},"encoding":{"x":{"field":"b0","type":"quantitative","scale":{"domain":[0,5],"nice":false},"axis":null},"x2":{"field":"b1"},"y":{"field":"v","type":"quantitative","scale":{"domain":[0,0.25],"nice":false},"axis":null},"y2":{"datum":0}}},
{"data":{"name":"one"},"mark":{"type":"rule","color":"#f0282d","strokeWidth":1.5},"encoding":{"x":{"datum":1,"type":"quantitative","scale":{"domain":[0,5],"nice":false},"axis":null},"y":{"datum":0,"type":"quantitative","scale":{"domain":[0,0.25],"nice":false},"axis":null},"y2":{"datum":0.25}}},
{"data":{"name":"one"},"mark":{"type":"rect","fill":"white"},"encoding":{"x":{"datum":0.69,"type":"quantitative","scale":{"domain":[0,5],"nice":false},"axis":null},"x2":{"datum":1.875},"y":{"datum":0.1825,"type":"quantitative","scale":{"domain":[0,0.25],"nice":false},"axis":null},"y2":{"datum":0.2465}}},
{"data":{"name":"one"},"mark":{"type":"rule","color":"#f0282d","strokeWidth":1.5,"strokeDash":[6,3]},"encoding":{"x":{"datum":2,"type":"quantitative","scale":{"domain":[0,5],"nice":false},"axis":{"orient":"top","labels":false,"grid":false,"title":null}},"y":{"datum":0,"type":"quantitative","scale":{"domain":[0,0.25],"nice":false},"axis":{"orient":"right","labels":false,"grid":false,"title":null}},"y2":{"datum":0.25}}},
{"data":{"name":"one"},"mark":{"type":"text","text":"7.2%","color":"#2a2ad0","fontSize":15,"baseline":"middle"},"encoding":{"x":{"datum":1.32,"type":"quantitative","scale":{"domain":[0,5],"nice":false},"axis":null},"y":{"datum":0.228,"type":"quantitative","scale":{"domain":[0,0.25],"nice":false},"axis":null}}},
{"data":{"name":"one"},"mark":{"type":"text","text":"1.7%","color":"#e0194b","fontSize":15,"baseline":"middle"},"encoding":{"x":{"datum":1.32,"type":"quantitative","scale":{"domain":[0,5],"nice":false},"axis":null},"y":{"datum":0.199,"type":"quantitative","scale":{"domain":[0,0.25],"nice":false},"axis":null}}},
{"data":{"name":"one"},"mark":{"type":"text","text":"Simulated","align":"right"},"encoding":{"x":{"datum":2.86,"type":"quantitative","scale":{"domain":[0,5],"nice":false},"axis":null},"y":{"datum":-0.0505,"type":"quantitative","scale":{"domain":[0,0.25],"nice":false},"axis":null}}},
{"data":{"name":"one"},"mark":{"type":"text","text":"b","align":"left","fontStyle":"italic"},"encoding":{"x":{"datum":3.0,"type":"quantitative","scale":{"domain":[0,5],"nice":false},"axis":null},"y":{"datum":-0.0505,"type":"quantitative","scale":{"domain":[0,0.25],"nice":false},"axis":null}}},
{"data":{"name":"one"},"mark":{"type":"text","text":"Ω","align":"left"},"encoding":{"x":{"datum":3.33,"type":"quantitative","scale":{"domain":[0,5],"nice":false},"axis":null},"y":{"datum":-0.0505,"type":"quantitative","scale":{"domain":[0,0.25],"nice":false},"axis":null}}},
{"data":{"name":"one"},"mark":{"type":"text","text":"Ar","align":"left","fontSize":16},"encoding":{"x":{"datum":3.68,"type":"quantitative","scale":{"domain":[0,5],"nice":false},"axis":null},"y":{"datum":-0.0585,"type":"quantitative","scale":{"domain":[0,0.25],"nice":false},"axis":null}}}
]},
{"width":267,"height":277,"title":{"text":"(f) Spring at bottom","offset":-4},"resolve":{"axis":{"x":"independent","y":"independent"}},"layer":[
{"data":{"name":"bars"},"transform":[{"filter":"datum.p=='f'&&datum.s=='H'"}],"mark":{"type":"rect","fill":"#1f77b4","fillOpacity":0.25,"stroke":"#1f2fc8","strokeWidth":1.6,"clip":true},"encoding":{"x":{"field":"b0","type":"quantitative","scale":{"domain":[0,5],"nice":false},"axis":{"orient":"bottom","title":null}},"x2":{"field":"b1"},"y":{"field":"v","type":"quantitative","scale":{"domain":[0,0.25],"nice":false},"axis":{"orient":"left","title":null,"labels":false}},"y2":{"datum":0}}},
{"data":{"name":"bars"},"transform":[{"filter":"datum.p=='f'&&datum.s=='L'"}],"mark":{"type":"rect","fill":"#ff5a36","fillOpacity":0.2,"stroke":"#dc143c","strokeWidth":1.6,"clip":true},"encoding":{"x":{"field":"b0","type":"quantitative","scale":{"domain":[0,5],"nice":false},"axis":null},"x2":{"field":"b1"},"y":{"field":"v","type":"quantitative","scale":{"domain":[0,0.25],"nice":false},"axis":null},"y2":{"datum":0}}},
{"data":{"name":"one"},"mark":{"type":"rule","color":"#f0282d","strokeWidth":1.5},"encoding":{"x":{"datum":1,"type":"quantitative","scale":{"domain":[0,5],"nice":false},"axis":null},"y":{"datum":0,"type":"quantitative","scale":{"domain":[0,0.25],"nice":false},"axis":null},"y2":{"datum":0.25}}},
{"data":{"name":"one"},"mark":{"type":"rect","fill":"white"},"encoding":{"x":{"datum":0.69,"type":"quantitative","scale":{"domain":[0,5],"nice":false},"axis":null},"x2":{"datum":1.875},"y":{"datum":0.1825,"type":"quantitative","scale":{"domain":[0,0.25],"nice":false},"axis":null},"y2":{"datum":0.2465}}},
{"data":{"name":"one"},"mark":{"type":"rule","color":"#f0282d","strokeWidth":1.5,"strokeDash":[6,3]},"encoding":{"x":{"datum":2,"type":"quantitative","scale":{"domain":[0,5],"nice":false},"axis":{"orient":"top","labels":false,"grid":false,"title":null}},"y":{"datum":0,"type":"quantitative","scale":{"domain":[0,0.25],"nice":false},"axis":{"orient":"right","labels":false,"grid":false,"title":null}},"y2":{"datum":0.25}}},
{"data":{"name":"one"},"mark":{"type":"text","text":"16.8%","color":"#2a2ad0","fontSize":15,"baseline":"middle"},"encoding":{"x":{"datum":1.32,"type":"quantitative","scale":{"domain":[0,5],"nice":false},"axis":null},"y":{"datum":0.228,"type":"quantitative","scale":{"domain":[0,0.25],"nice":false},"axis":null}}},
{"data":{"name":"one"},"mark":{"type":"text","text":"8.6%","color":"#e0194b","fontSize":15,"baseline":"middle"},"encoding":{"x":{"datum":1.32,"type":"quantitative","scale":{"domain":[0,5],"nice":false},"axis":null},"y":{"datum":0.199,"type":"quantitative","scale":{"domain":[0,0.25],"nice":false},"axis":null}}},
{"data":{"name":"one"},"mark":{"type":"text","text":"Simulated","align":"right"},"encoding":{"x":{"datum":2.86,"type":"quantitative","scale":{"domain":[0,5],"nice":false},"axis":null},"y":{"datum":-0.0505,"type":"quantitative","scale":{"domain":[0,0.25],"nice":false},"axis":null}}},
{"data":{"name":"one"},"mark":{"type":"text","text":"b","align":"left","fontStyle":"italic"},"encoding":{"x":{"datum":3.0,"type":"quantitative","scale":{"domain":[0,5],"nice":false},"axis":null},"y":{"datum":-0.0505,"type":"quantitative","scale":{"domain":[0,0.25],"nice":false},"axis":null}}},
{"data":{"name":"one"},"mark":{"type":"text","text":"Ω","align":"left"},"encoding":{"x":{"datum":3.33,"type":"quantitative","scale":{"domain":[0,5],"nice":false},"axis":null},"y":{"datum":-0.0505,"type":"quantitative","scale":{"domain":[0,0.25],"nice":false},"axis":null}}},
{"data":{"name":"one"},"mark":{"type":"text","text":"Ar","align":"left","fontSize":16},"encoding":{"x":{"datum":3.68,"type":"quantitative","scale":{"domain":[0,5],"nice":false},"axis":null},"y":{"datum":-0.0585,"type":"quantitative","scale":{"domain":[0,0.25],"nice":false},"axis":null}}}
]},
{"width":267,"height":277,"title":{"text":"(g) Summer at bottom","offset":-4},"resolve":{"axis":{"x":"independent","y":"independent"}},"layer":[
{"data":{"name":"bars"},"transform":[{"filter":"datum.p=='g'&&datum.s=='H'"}],"mark":{"type":"rect","fill":"#1f77b4","fillOpacity":0.25,"stroke":"#1f2fc8","strokeWidth":1.6,"clip":true},"encoding":{"x":{"field":"b0","type":"quantitative","scale":{"domain":[0,5],"nice":false},"axis":{"orient":"bottom","title":null}},"x2":{"field":"b1"},"y":{"field":"v","type":"quantitative","scale":{"domain":[0,0.25],"nice":false},"axis":{"orient":"left","title":null,"labels":false}},"y2":{"datum":0}}},
{"data":{"name":"bars"},"transform":[{"filter":"datum.p=='g'&&datum.s=='L'"}],"mark":{"type":"rect","fill":"#ff5a36","fillOpacity":0.2,"stroke":"#dc143c","strokeWidth":1.6,"clip":true},"encoding":{"x":{"field":"b0","type":"quantitative","scale":{"domain":[0,5],"nice":false},"axis":null},"x2":{"field":"b1"},"y":{"field":"v","type":"quantitative","scale":{"domain":[0,0.25],"nice":false},"axis":null},"y2":{"datum":0}}},
{"data":{"name":"one"},"mark":{"type":"rule","color":"#f0282d","strokeWidth":1.5},"encoding":{"x":{"datum":1,"type":"quantitative","scale":{"domain":[0,5],"nice":false},"axis":null},"y":{"datum":0,"type":"quantitative","scale":{"domain":[0,0.25],"nice":false},"axis":null},"y2":{"datum":0.25}}},
{"data":{"name":"one"},"mark":{"type":"rect","fill":"white"},"encoding":{"x":{"datum":0.69,"type":"quantitative","scale":{"domain":[0,5],"nice":false},"axis":null},"x2":{"datum":1.875},"y":{"datum":0.1825,"type":"quantitative","scale":{"domain":[0,0.25],"nice":false},"axis":null},"y2":{"datum":0.2465}}},
{"data":{"name":"one"},"mark":{"type":"rule","color":"#f0282d","strokeWidth":1.5,"strokeDash":[6,3]},"encoding":{"x":{"datum":2,"type":"quantitative","scale":{"domain":[0,5],"nice":false},"axis":{"orient":"top","labels":false,"grid":false,"title":null}},"y":{"datum":0,"type":"quantitative","scale":{"domain":[0,0.25],"nice":false},"axis":{"orient":"right","labels":false,"grid":false,"title":null}},"y2":{"datum":0.25}}},
{"data":{"name":"one"},"mark":{"type":"text","text":"32.8%","color":"#2a2ad0","fontSize":15,"baseline":"middle"},"encoding":{"x":{"datum":1.32,"type":"quantitative","scale":{"domain":[0,5],"nice":false},"axis":null},"y":{"datum":0.228,"type":"quantitative","scale":{"domain":[0,0.25],"nice":false},"axis":null}}},
{"data":{"name":"one"},"mark":{"type":"text","text":"5.3%","color":"#e0194b","fontSize":15,"baseline":"middle"},"encoding":{"x":{"datum":1.32,"type":"quantitative","scale":{"domain":[0,5],"nice":false},"axis":null},"y":{"datum":0.199,"type":"quantitative","scale":{"domain":[0,0.25],"nice":false},"axis":null}}},
{"data":{"name":"one"},"mark":{"type":"text","text":"Simulated","align":"right"},"encoding":{"x":{"datum":2.86,"type":"quantitative","scale":{"domain":[0,5],"nice":false},"axis":null},"y":{"datum":-0.0505,"type":"quantitative","scale":{"domain":[0,0.25],"nice":false},"axis":null}}},
{"data":{"name":"one"},"mark":{"type":"text","text":"b","align":"left","fontStyle":"italic"},"encoding":{"x":{"datum":3.0,"type":"quantitative","scale":{"domain":[0,5],"nice":false},"axis":null},"y":{"datum":-0.0505,"type":"quantitative","scale":{"domain":[0,0.25],"nice":false},"axis":null}}},
{"data":{"name":"one"},"mark":{"type":"text","text":"Ω","align":"left"},"encoding":{"x":{"datum":3.33,"type":"quantitative","scale":{"domain":[0,5],"nice":false},"axis":null},"y":{"datum":-0.0505,"type":"quantitative","scale":{"domain":[0,0.25],"nice":false},"axis":null}}},
{"data":{"name":"one"},"mark":{"type":"text","text":"Ar","align":"left","fontSize":16},"encoding":{"x":{"datum":3.68,"type":"quantitative","scale":{"domain":[0,5],"nice":false},"axis":null},"y":{"datum":-0.0585,"type":"quantitative","scale":{"domain":[0,0.25],"nice":false},"axis":null}}}
]},
{"width":267,"height":277,"title":{"text":"(h) Fall at bottom","offset":-4},"resolve":{"axis":{"x":"independent","y":"independent"}},"layer":[
{"data":{"name":"bars"},"transform":[{"filter":"datum.p=='h'&&datum.s=='H'"}],"mark":{"type":"rect","fill":"#1f77b4","fillOpacity":0.25,"stroke":"#1f2fc8","strokeWidth":1.6,"clip":true},"encoding":{"x":{"field":"b0","type":"quantitative","scale":{"domain":[0,5],"nice":false},"axis":{"orient":"bottom","title":null}},"x2":{"field":"b1"},"y":{"field":"v","type":"quantitative","scale":{"domain":[0,0.25],"nice":false},"axis":{"orient":"left","title":null,"labels":false}},"y2":{"datum":0}}},
{"data":{"name":"bars"},"transform":[{"filter":"datum.p=='h'&&datum.s=='L'"}],"mark":{"type":"rect","fill":"#ff5a36","fillOpacity":0.2,"stroke":"#dc143c","strokeWidth":1.6,"clip":true},"encoding":{"x":{"field":"b0","type":"quantitative","scale":{"domain":[0,5],"nice":false},"axis":null},"x2":{"field":"b1"},"y":{"field":"v","type":"quantitative","scale":{"domain":[0,0.25],"nice":false},"axis":null},"y2":{"datum":0}}},
{"data":{"name":"one"},"mark":{"type":"rule","color":"#f0282d","strokeWidth":1.5},"encoding":{"x":{"datum":1,"type":"quantitative","scale":{"domain":[0,5],"nice":false},"axis":null},"y":{"datum":0,"type":"quantitative","scale":{"domain":[0,0.25],"nice":false},"axis":null},"y2":{"datum":0.25}}},
{"data":{"name":"one"},"mark":{"type":"rect","fill":"white"},"encoding":{"x":{"datum":0.69,"type":"quantitative","scale":{"domain":[0,5],"nice":false},"axis":null},"x2":{"datum":1.875},"y":{"datum":0.1825,"type":"quantitative","scale":{"domain":[0,0.25],"nice":false},"axis":null},"y2":{"datum":0.2465}}},
{"data":{"name":"one"},"mark":{"type":"rule","color":"#f0282d","strokeWidth":1.5,"strokeDash":[6,3]},"encoding":{"x":{"datum":2,"type":"quantitative","scale":{"domain":[0,5],"nice":false},"axis":{"orient":"top","labels":false,"grid":false,"title":null}},"y":{"datum":0,"type":"quantitative","scale":{"domain":[0,0.25],"nice":false},"axis":{"orient":"right","labels":false,"grid":false,"title":null}},"y2":{"datum":0.25}}},
{"data":{"name":"one"},"mark":{"type":"text","text":"2.5%","color":"#2a2ad0","fontSize":15,"baseline":"middle"},"encoding":{"x":{"datum":1.32,"type":"quantitative","scale":{"domain":[0,5],"nice":false},"axis":null},"y":{"datum":0.228,"type":"quantitative","scale":{"domain":[0,0.25],"nice":false},"axis":null}}},
{"data":{"name":"one"},"mark":{"type":"text","text":"0.5%","color":"#e0194b","fontSize":15,"baseline":"middle"},"encoding":{"x":{"datum":1.32,"type":"quantitative","scale":{"domain":[0,5],"nice":false},"axis":null},"y":{"datum":0.199,"type":"quantitative","scale":{"domain":[0,0.25],"nice":false},"axis":null}}},
{"data":{"name":"one"},"mark":{"type":"text","text":"Simulated","align":"right"},"encoding":{"x":{"datum":2.86,"type":"quantitative","scale":{"domain":[0,5],"nice":false},"axis":null},"y":{"datum":-0.0505,"type":"quantitative","scale":{"domain":[0,0.25],"nice":false},"axis":null}}},
{"data":{"name":"one"},"mark":{"type":"text","text":"b","align":"left","fontStyle":"italic"},"encoding":{"x":{"datum":3.0,"type":"quantitative","scale":{"domain":[0,5],"nice":false},"axis":null},"y":{"datum":-0.0505,"type":"quantitative","scale":{"domain":[0,0.25],"nice":false},"axis":null}}},
{"data":{"name":"one"},"mark":{"type":"text","text":"Ω","align":"left"},"encoding":{"x":{"datum":3.33,"type":"quantitative","scale":{"domain":[0,5],"nice":false},"axis":null},"y":{"datum":-0.0505,"type":"quantitative","scale":{"domain":[0,0.25],"nice":false},"axis":null}}},
{"data":{"name":"one"},"mark":{"type":"text","text":"Ar","align":"left","fontSize":16},"encoding":{"x":{"datum":3.68,"type":"quantitative","scale":{"domain":[0,5],"nice":false},"axis":null},"y":{"datum":-0.0585,"type":"quantitative","scale":{"domain":[0,0.25],"nice":false},"axis":null}}}
]}
],
"config": {
"font": "DejaVu Sans",
"view": {"stroke": null},
"axis": {"domainColor":"#262626","domainWidth":1.6,"tickColor":"#262626","tickWidth":1.5,"tickSize":5,"labelFont":"DejaVu Sans","labelFontSize":20,"labelColor":"#262626","labelPadding":4,"gridColor":"#dadada","gridWidth":1.3,"titleFont":"DejaVu Sans","titleFontSize":24,"titleFontWeight":"normal","titleColor":"#262626","titlePadding":8,"labelFlush":false,"tickCount":5},
"title": {"font":"DejaVu Sans","fontSize":24,"fontWeight":"normal","color":"#111111"},
"legend": {"orient":"none","legendX":379,"legendY":-98,"direction":"horizontal","symbolType":"M-5,-1L5,-1L5,1L-5,1Z","symbolSize":317,"symbolStrokeWidth":2,"labelFont":"DejaVu Sans","labelFontSize":18,"labelColor":"#111111","labelOffset":43,"columnPadding":16,"padding":0},
"text": {"font":"DejaVu Sans","fontSize":23,"color":"#262626","baseline":"alphabetic"}
}
}
